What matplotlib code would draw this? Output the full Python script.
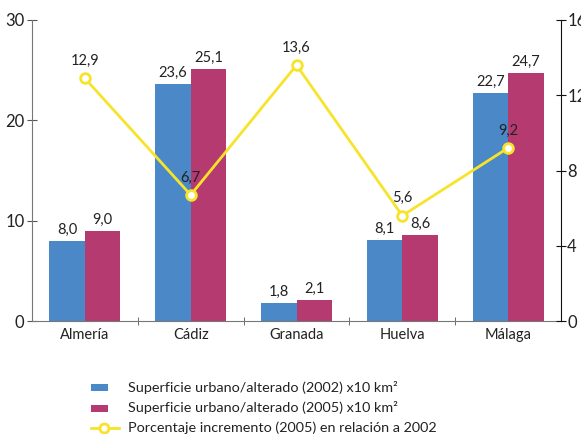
import matplotlib
matplotlib.use("Agg")
import matplotlib.pyplot as plt
import numpy as np
from matplotlib.lines import Line2D
from matplotlib.patches import Rectangle

provincias = ["Almería", "Cádiz", "Granada", "Huelva", "Málaga"]
sup_2002 = [8.0, 23.6, 1.8, 8.1, 22.7]
sup_2005 = [9.0, 25.1, 2.1, 8.6, 24.7]
incremento = [12.9, 6.7, 13.6, 5.6, 9.2]
left_ticks = [0, 10, 20, 30]
right_ticks = [0, 4, 8, 12, 16]
leyenda = [
    "Superficie urbano/alterado (2002) x10 km²",
    "Superficie urbano/alterado (2005) x10 km²",
    "Porcentaje incremento (2005) en relación a 2002",
]

blue = "#4a88c8"
magenta = "#b53a70"
yellow = "#f7e42a"
txt = "#222222"

plt.rcParams["font.family"] = ["Lato", "DejaVu Sans"]

W, H = 581, 434
fig = plt.figure(figsize=(W / 100, H / 100), dpi=100)
ax = fig.add_axes([32 / W, 113 / H, 529 / W, 301 / H])
ax2 = ax.twinx()

x = np.arange(len(provincias))
w = 0.335
ax.bar(x - w / 2, sup_2002, w, color=blue, zorder=2)
ax.bar(x + w / 2, sup_2005, w, color=magenta, zorder=2)


def fmt(v):
    return f"{v:.1f}".replace(".", ",")


for xi, v in zip(x, sup_2002):
    ax.text(xi - w / 2, v + 0.4, fmt(v), ha="center", va="bottom", fontsize=10.5, color=txt)
for xi, v in zip(x, sup_2005):
    ax.text(xi + w / 2, v + 0.4, fmt(v), ha="center", va="bottom", fontsize=10.5, color=txt)

ax2.plot(x, incremento, color=yellow, lw=2, marker="o", ms=7, mfc="white",
         mec=yellow, mew=2, zorder=5)
for xi, v in zip(x, incremento):
    ax2.text(xi, v + 0.55, fmt(v), ha="center", va="bottom", fontsize=10.5, color=txt, zorder=6)

ax.set_xlim(-0.5, len(provincias) - 0.5)
ax.set_ylim(0, 30)
ax2.set_ylim(0, 16)
ax.set_yticks(left_ticks)
ax2.set_yticks(right_ticks)
ax.set_xticks(x)
ax.set_xticklabels(provincias, fontsize=10.5, color=txt)
ax.set_xticks(np.arange(0.5, len(provincias) - 0.5, 1), minor=True)

for a in (ax, ax2):
    a.spines["top"].set_visible(False)
ax.spines["left"].set_color("#777777")
ax.spines["bottom"].set_color("#777777")
ax.spines["right"].set_visible(False)
ax2.spines["left"].set_visible(False)
ax2.spines["bottom"].set_visible(False)
ax2.spines["right"].set_color("#111111")

ax.tick_params(axis="y", direction="inout", length=7, color="#555555",
               labelsize=12, labelcolor=txt, pad=2)
ax2.tick_params(axis="y", direction="inout", length=7, color="#111111",
                labelsize=12, labelcolor=txt, pad=1)
ax.tick_params(axis="x", which="major", length=0, pad=5)
ax.tick_params(axis="x", which="minor", direction="inout", length=6, color="#555555")

# legend drawn in figure pixel coordinates
def fy(py):
    return 1 - py / H

rows_y = [387, 408, 428]
fig.add_artist(Rectangle((91 / W, fy(rows_y[0] + 3.5)), 17 / W, 7 / H,
                         transform=fig.transFigure, facecolor=blue, edgecolor="none"))
fig.add_artist(Rectangle((91 / W, fy(rows_y[1] + 3.5)), 17 / W, 7 / H,
                         transform=fig.transFigure, facecolor=magenta, edgecolor="none"))
fig.add_artist(Line2D([91 / W, 119 / W], [fy(rows_y[2])] * 2, transform=fig.transFigure,
                      color=yellow, lw=2))
fig.add_artist(Line2D([104 / W], [fy(rows_y[2])], transform=fig.transFigure,
                      color=yellow, marker="o", ms=6.5, mfc="white", mec=yellow, mew=2))
for ry, label in zip(rows_y, leyenda):
    fig.text(128 / W, fy(ry), label, ha="left", va="center", fontsize=10.4, color=txt)

fig.savefig("out.png", dpi=100)
